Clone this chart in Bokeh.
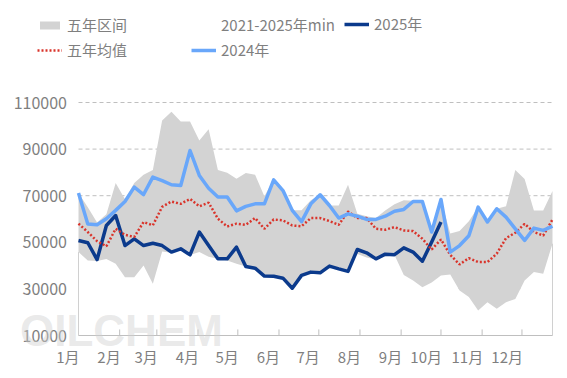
from bokeh.plotting import figure
from bokeh.models import (Range1d, FixedTicker, Legend, LegendItem,
                          NumeralTickFormatter, CustomJSTickFormatter)
from bokeh.embed import file_html
from bokeh.resources import INLINE

# ---------------- data (weekly, 52 weeks) ----------------
weeks = list(range(52))

band_max = [71200, 65000, 58500, 62000, 75500, 68500, 75500, 79000, 81000, 102300,
            106000, 101800, 101800, 93700, 98500, 81000, 79800, 77300, 79700, 79000,
            69800, 77000, 72500, 63800, 63800, 68000, 70400, 65800, 65800, 74700,
            62200, 61200, 60400, 63700, 66300, 68000, 67800, 67800, 54400, 68400,
            53800, 54800, 59000, 65100, 58700, 64400, 65500, 81000, 77200, 63700,
            63700, 72000]

band_min = [45800, 42200, 42000, 42800, 40800, 35000, 35000, 40000, 32200, 46000,
            45500, 46800, 44600, 45800, 43800, 42900, 42200, 40800, 39600, 38900,
            35500, 35400, 34600, 30300, 35800, 37200, 36900, 39800, 38600, 37500,
            45000, 43500, 42600, 44000, 44600, 36000, 33600, 30700, 32800, 35800,
            36200, 29300, 26500, 20700, 24300, 21500, 24300, 25700, 33600, 37200,
            36500, 49400]

mean5 = [58000, 54400, 50500, 48300, 55800, 53200, 52300, 58700, 57300, 65200,
         67500, 66500, 68600, 65400, 67000, 60100, 56800, 58000, 57500, 60400,
         55800, 59800, 59400, 57200, 56900, 60400, 60400, 59100, 57500, 63200,
         60400, 60400, 55800, 55400, 56500, 55100, 54800, 51500, 46900, 51200,
         44600, 40500, 43200, 41500, 41500, 45100, 51800, 54100, 57900, 54400,
         52900, 59800]

y2024 = [71200, 57900, 57500, 60100, 63700, 67500, 73700, 70500, 78000, 76500,
         74700, 74400, 89400, 78700, 73200, 69400, 69400, 63500, 65400, 66500,
         66500, 76800, 72200, 63700, 58900, 66500, 70400, 65800, 60400, 62200,
         61200, 59800, 59800, 61200, 63300, 64100, 67500, 67500, 54400, 68400,
         45800, 48600, 52800, 65100, 58700, 64400, 60800, 55800, 50800, 56100,
         55100, 56900]

y2025 = [50800, 49800, 42600, 57200, 61500, 48600, 51500, 48600, 49600, 48600,
         45800, 47200, 44600, 54400, 48600, 42900, 42900, 47900, 39600, 38900,
         35500, 35400, 34600, 30300, 35800, 37200, 36900, 39800, 38600, 37500,
         46900, 45500, 42900, 44900, 44700, 47600, 45800, 41900, 50100, 58700]
weeks2025 = weeks[:len(y2025)]

month_labels = ["1月", "2月", "3月", "4月", "5月", "6月",
                "7月", "8月", "9月", "10月", "11月", "12月"]
month_days = [31, 28, 31, 30, 31, 30, 31, 31, 30, 31, 30, 31]
y_ticks = [10000, 30000, 50000, 70000, 90000, 110000]

# ---------------- layout helpers ----------------
FONT = "Noto Sans CJK SC"
W, H = 567, 378
TOP = 10
PXW = 474 / 51.0                 # px per week
X_PX0 = 78                        # canvas x of week 0
X0 = -X_PX0 / PXW
X1 = X0 + W / PXW

K = 233 / 100000.0               # px per unit
Y_PX10K = 335                     # canvas y of the 10000 line
FRAME_H = H - TOP
Y0 = 10000 - (H - Y_PX10K) / K
Y1 = Y0 + FRAME_H / K

month_start = []
acc = 0
for d in month_days:
    month_start.append(acc / 7.0)
    acc += d

LBL_PX = 15
def label_width(s):
    digits = sum(1 for c in s if c.isdigit())
    return digits * 0.554 * LBL_PX + LBL_PX

label_pos = [round(ms - (label_width(s) / 2 - 1) / PXW, 4)
             for ms, s in zip(month_start, month_labels)]

p = figure(width=W, height=H, output_backend="svg", toolbar_location=None,
           x_range=Range1d(X0, X1), y_range=Range1d(Y0, Y1),
           min_border_left=0, min_border_right=0,
           min_border_top=TOP, min_border_bottom=0)
p.outline_line_color = None
p.background_fill_color = "white"
p.border_fill_color = "white"
p.xgrid.visible = False
p.ygrid.visible = False

r_wm = p.line([0], [10000], line_alpha=0)   # carrier for the watermark text

# faint watermark
wm = Legend(items=[LegendItem(label="OILCHEM", renderers=[r_wm])],
            location=(20, H - 356))
wm.border_line_color = None
wm.background_fill_alpha = 0
wm.padding = 0
wm.margin = 0
wm.glyph_width = 0
wm.label_standoff = 0
wm.label_text_font = "Liberation Sans"
wm.label_text_font_style = "bold"
wm.label_text_font_size = "44px"
wm.label_text_color = "#d0d0d0"
wm.label_text_alpha = 0.45
p.add_layout(wm)

# dashed gridlines
grid_y = y_ticks[1:]
p.segment(x0=[0] * len(grid_y), y0=grid_y, x1=[51] * len(grid_y), y1=grid_y,
          line_color="#bfbfbf", line_width=1, line_dash="4 3")

# white "min" area and grey range band
r_min = p.varea(x=weeks, y1=[10000] * len(weeks), y2=band_min, fill_color="white")
r_band = p.varea(x=weeks, y1=band_min, y2=band_max, fill_color="#d3d3d3")

# edges of min area, x-axis line, ticks
p.segment(x0=[0, 51], y0=[10000, 10000], x1=[0, 51], y1=[band_min[0], band_min[-1]],
          line_color="#d0d0d0", line_width=1)
p.segment(x0=[0], y0=[10000], x1=[51], y1=[10000], line_color="#bfbfbf", line_width=1)
tick_x = month_start[1:]
p.segment(x0=tick_x, y0=[10000] * len(tick_x), x1=tick_x, y1=[12600] * len(tick_x),
          line_color="#bfbfbf", line_width=1)

# series lines
r2025 = p.line(weeks2025, y2025, line_color="#0b3a8c", line_width=3.5,
               line_join="round")
rmean = p.line(weeks, mean5, line_color="#d9342b", line_width=2.5, line_dash="2 2")
r2024 = p.line(weeks, y2024, line_color="#69a7fa", line_width=3.5, line_join="round")

# axes (placed inside the canvas-wide frame)
xa = p.xaxis[0]
xa.fixed_location = 10000
xa.ticker = FixedTicker(ticks=label_pos)
xa.formatter = CustomJSTickFormatter(args=dict(labels=month_labels, pos=label_pos), code="""
    let best = 0, bd = 1e9;
    for (let j = 0; j < pos.length; j++) {
        const d = Math.abs(pos[j] - tick);
        if (d < bd) { bd = d; best = j; }
    }
    return labels[best];
""")
xa.axis_line_color = None
xa.major_tick_line_color = None
xa.minor_tick_line_color = None
xa.major_tick_out = 0
xa.major_tick_in = 0
xa.major_label_standoff = 10
xa.major_label_text_font = FONT
xa.major_label_text_font_size = "15px"
xa.major_label_text_color = "#7f7f7f"

ya = p.yaxis[0]
ya.fixed_location = (66.5 - X_PX0) / PXW
ya.ticker = FixedTicker(ticks=y_ticks)
ya.formatter = NumeralTickFormatter(format="0")
ya.axis_line_color = None
ya.major_tick_line_color = None
ya.minor_tick_line_color = None
ya.major_tick_out = 0
ya.major_tick_in = 0
ya.major_label_standoff = 0
ya.major_label_text_font = FONT
ya.major_label_text_font_size = "16px"
ya.major_label_text_color = "#7f7f7f"

# legends (three columns); location = bottom-left in px from frame bottom-left
def make_legend(items, loc):
    lg = Legend(items=items, location=loc, orientation="vertical")
    lg.border_line_color = None
    lg.background_fill_alpha = 0
    lg.padding = 0
    lg.margin = 0
    lg.spacing = 4
    lg.glyph_width = 25
    lg.glyph_height = 10
    lg.label_height = 20
    lg.label_standoff = 5
    lg.label_text_font = FONT
    lg.label_text_font_size = "15px"
    lg.label_text_color = "#7f7f7f"
    return lg

leg_a = make_legend([LegendItem(label="五年区间", renderers=[r_band]),
                     LegendItem(label="五年均值", renderers=[rmean])],
                    (37, H - 60))
leg_b = make_legend([LegendItem(label="2021-2025年min", renderers=[r_min]),
                     LegendItem(label="2024年", renderers=[r2024])],
                    (191, H - 60))
leg_c = make_legend([LegendItem(label="2025年", renderers=[r2025])],
                    (344, H - 34))
p.add_layout(leg_a)
p.add_layout(leg_b)
p.add_layout(leg_c)

open("out.html", "w").write(file_html(p, INLINE))
